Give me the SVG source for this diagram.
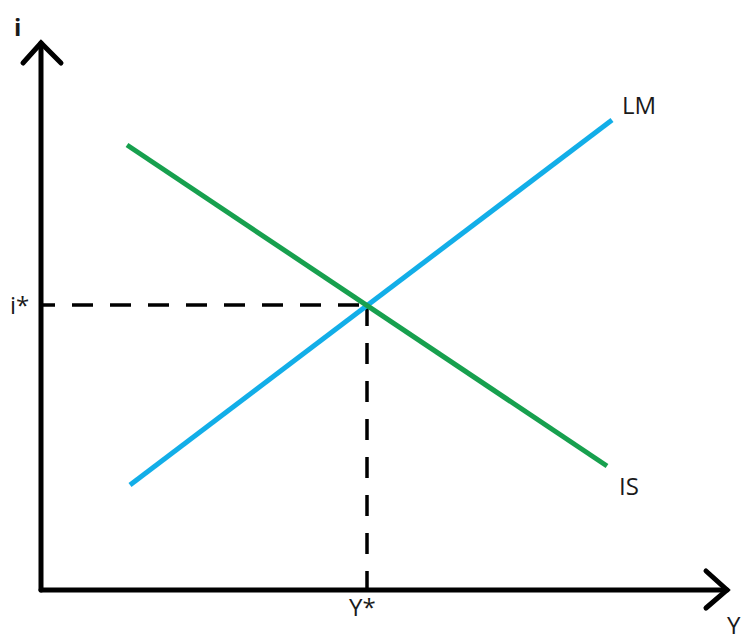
<svg xmlns="http://www.w3.org/2000/svg" width="743" height="635" viewBox="0 0 743 635">
<style>
.ax{stroke:#000;stroke-width:5;fill:none;stroke-linecap:round;stroke-linejoin:miter}
.dash{stroke:#000;stroke-width:3.5;fill:none;stroke-dasharray:21 17}
.t{font-family:"Open Sans","DejaVu Sans",sans-serif;font-size:24px;fill:#1a1a1a}
</style>
<rect width="743" height="635" fill="#fff"/>
<g id="connectors">
<path class="dash" d="M41 305 H367" stroke-dashoffset="7"/>
<path class="dash" d="M367 305 V590" stroke-dashoffset="0"/>
<line x1="130" y1="485" x2="612" y2="120" stroke="#12aee8" stroke-width="5"/>
<line x1="127" y1="145" x2="607" y2="466" stroke="#17a04e" stroke-width="5"/>
<path class="ax" d="M41 590 V43"/>
<path class="ax" d="M23 63 L41 43 L61 63"/>
<path class="ax" d="M41 590 H727"/>
<path class="ax" d="M706 571 L727 590 L706 608"/>
</g>
<g id="labels">
<text class="t" x="14" y="36" font-weight="bold">i</text>
<text class="t" x="10" y="314">i*</text>
<text class="t" x="622" y="114">LM</text>
<text class="t" x="619" y="495">IS</text>
<text class="t" x="349" y="616">Y*</text>
<text class="t" x="727" y="634">Y</text>
</g>
</svg>
